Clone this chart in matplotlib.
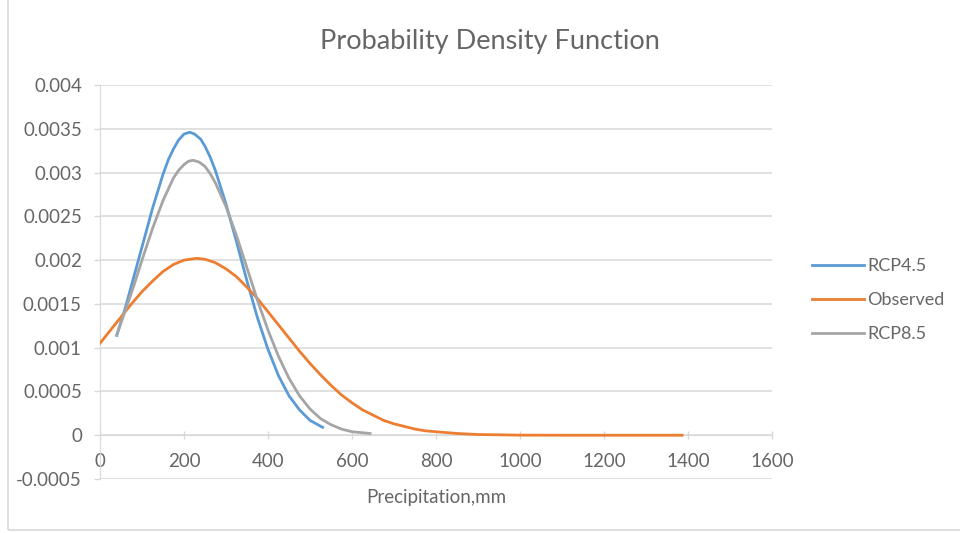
import matplotlib.pyplot as plt
from matplotlib.patches import Rectangle
from matplotlib.ticker import FixedLocator, FuncFormatter

plt.rcParams['font.family'] = ['Lato', 'DejaVu Sans']

# precipitation (mm) and density values, read per series
x_rcp45 = [40, 60, 80, 100, 125, 150, 163, 175, 187, 200, 214, 225, 240, 250, 262,
           275, 300, 325, 350, 375, 400, 425, 450, 475, 500, 530]
y_rcp45 = [0.00114, 0.00145, 0.00180, 0.00215, 0.00259, 0.00298, 0.00315, 0.00327,
           0.00337, 0.00344, 0.00346, 0.00344, 0.00338, 0.00330, 0.00318, 0.00302,
           0.00264, 0.00221, 0.00176, 0.00134, 0.00098, 0.00068, 0.00045, 0.00029,
           0.00017, 0.00009]

x_obs = [0, 25, 50, 75, 100, 125, 150, 175, 200, 230, 250, 275, 300, 325, 350, 375,
         400, 425, 450, 475, 500, 525, 550, 575, 600, 625, 650, 675, 700, 725, 750,
         775, 800, 850, 900, 1000, 1100, 1200, 1300, 1386]
y_obs = [0.00105, 0.00120, 0.00135, 0.00150, 0.00164, 0.00176, 0.00187, 0.00195,
         0.00200, 0.00202, 0.00201, 0.00197, 0.00190, 0.00181, 0.00169, 0.00156,
         0.00141, 0.00126, 0.00111, 0.00096, 0.00082, 0.00069, 0.00057, 0.00046,
         0.00037, 0.00029, 0.00023, 0.00017, 0.00013, 0.00010, 0.00007, 0.00005,
         0.00004, 0.00002, 0.000008, 0.000001, 0, 0, 0, 0]

x_rcp85 = [40, 60, 80, 100, 125, 150, 175, 188, 200, 211, 222, 236, 250, 262, 275,
           300, 325, 350, 375, 400, 425, 450, 475, 500, 525, 550, 575, 600, 643]
y_rcp85 = [0.00115, 0.00142, 0.00170, 0.00200, 0.00236, 0.00268, 0.00294, 0.00303,
           0.00309, 0.00313, 0.00314, 0.00312, 0.00307, 0.00299, 0.00288, 0.00261,
           0.00228, 0.00191, 0.00154, 0.00120, 0.00090, 0.00065, 0.00045, 0.00030,
           0.00019, 0.00012, 0.00007, 0.00004, 0.00002]

y_ticks = [-0.0005, 0, 0.0005, 0.001, 0.0015, 0.002, 0.0025, 0.003, 0.0035, 0.004]
x_ticks = [0, 200, 400, 600, 800, 1000, 1200, 1400, 1600]

txt = '#666666'
grid = '#d9d9d9'
W, H = 960, 533

fig = plt.figure(figsize=(9.6, 5.33), dpi=100)
# marco del gráfico (solo se ven el borde izquierdo e inferior)
fig.patches.append(Rectangle((8 / W, 3 / H), 1.2, 1.2, transform=fig.transFigure,
                             fill=False, edgecolor=grid, linewidth=1.2))
ax = fig.add_axes([100 / W, 1 - 479 / H, 672 / W, 394 / H])

ax.plot(x_rcp45, y_rcp45, color='#5B9BD5', lw=2.0, label='RCP4.5', zorder=3)
ax.plot(x_obs, y_obs, color='#ED7D31', lw=2.0, label='Observed', zorder=3)
ax.plot(x_rcp85, y_rcp85, color='#A5A5A5', lw=2.0, label='RCP8.5', zorder=3)

ax.set_xlim(0, 1600)
ax.set_ylim(-0.0005, 0.004)
ax.yaxis.set_major_locator(FixedLocator(y_ticks))
ax.yaxis.set_major_formatter(FuncFormatter(lambda v, p: '{:g}'.format(v)))
ax.xaxis.set_major_locator(FixedLocator(x_ticks))

ax.grid(axis='y', color=grid, lw=1.1)
ax.set_axisbelow(True)
for s in ['top', 'right']:
    ax.spines[s].set_visible(False)
ax.spines['left'].set_color(grid)
ax.spines['bottom'].set_color(grid)
ax.spines['bottom'].set_position(('data', 0))  # eje x cruza en y=0
ax.tick_params(colors=grid, labelcolor=txt, labelsize=13.5, length=4, width=1)
ax.tick_params(axis='y', pad=9)
ax.tick_params(axis='x', direction='inout', length=6, pad=10)

fig.text(490 / W, 1 - 42 / H, 'Probability Density Function', color=txt,
         fontsize=19.5, ha='center', va='center')
fig.text(436 / W, 1 - 497 / H, 'Precipitation,mm', color=txt,
         fontsize=13.5, ha='center', va='center')

leg = ax.legend(loc='center left', bbox_to_anchor=(812 / W, 1 - 300 / H),
                bbox_transform=fig.transFigure, frameon=False, borderaxespad=0,
                borderpad=0, fontsize=13, handlelength=2.9, handletextpad=0.15,
                labelspacing=1.0)
for t in leg.get_texts():
    t.set_color(txt)

fig.savefig('out.png', dpi=100, facecolor='white')
